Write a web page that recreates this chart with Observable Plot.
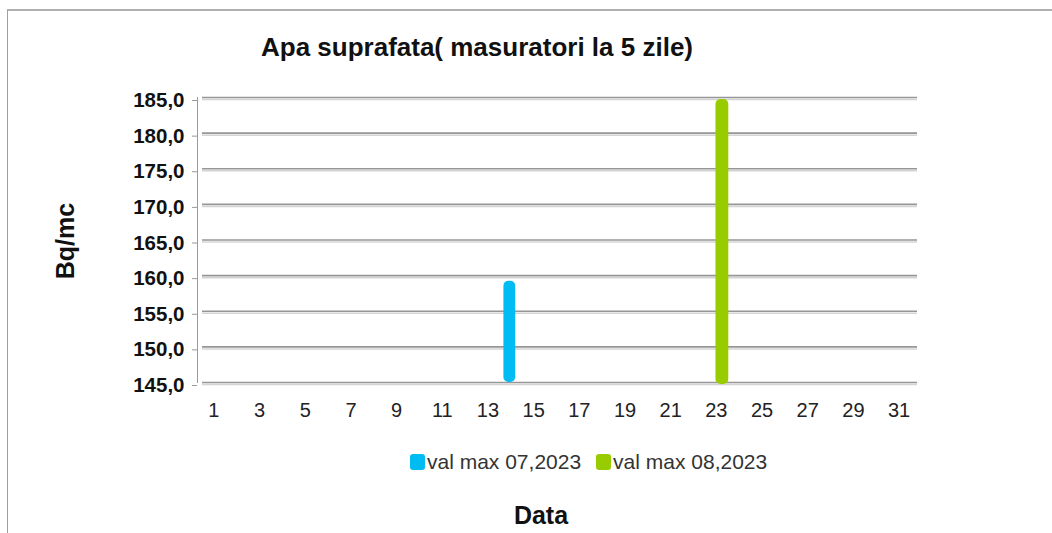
<!DOCTYPE html>
<html>
<head>
<meta charset="utf-8">
<script src="https://cdn.jsdelivr.net/npm/d3@7"></script>
<script src="https://cdn.jsdelivr.net/npm/@observablehq/plot@0.6"></script>
<style>
  html, body { margin: 0; padding: 0; background: #fff; }
  #wrap { position: relative; width: 1052px; height: 533px; overflow: hidden; font-family: "Liberation Sans", Arial, sans-serif; }
  #border { position: absolute; left: 7px; top: 9px; width: 1100px; height: 600px; border-top: 2px solid #b0b0b0; border-left: 1px solid #a0a0a0; }
  #title { position: absolute; left: 0; width: 954px; top: 34px; text-align: center; font-weight: bold; font-size: 26px; line-height: 27px; color: #111; }
  #ylab { position: absolute; left: 65px; top: 241px; transform: translate(-50%, -50%) rotate(-90deg); font-weight: bold; font-size: 25px; line-height: 25px; color: #111; white-space: nowrap; }
  #xlab { position: absolute; left: 0; width: 1082px; top: 503px; text-align: center; font-weight: bold; font-size: 25px; line-height: 25px; color: #111; }
  #chart { position: absolute; left: 0; top: 80px; }
  #legend { position: absolute; left: 410px; top: 451px; display: flex; align-items: center; font-size: 21px; line-height: 22px; color: #333; }
  .sw { display: inline-block; width: 15px; height: 16px; border-radius: 3px; margin-right: 2px; }
  .item { display: flex; align-items: center; margin-right: 15px; }
</style>
</head>
<body>
<div id="wrap">
  <div id="border"></div>
  <div id="title"></div>
  <div id="ylab"></div>
  <div id="chart"></div>
  <div id="legend"></div>
  <div id="xlab"></div>
</div>
<script>
const chartTitle = "Apa suprafata( masuratori la 5 zile)";
const yTitle = "Bq/mc";
const xTitle = "Data";
const days = [1,2,3,4,5,6,7,8,9,10,11,12,13,14,15,16,17,18,19,20,21,22,23,24,25,26,27,28,29,30,31];
const xTickLabels = [1,3,5,7,9,11,13,15,17,19,21,23,25,27,29,31];
const yTicks = [145,150,155,160,165,170,175,180,185];
const seriesNames = ["val max 07,2023", "val max 08,2023"];
const seriesColors = ["#00BCF2", "#99CC00"];
const julyDays = [14];
const julyValues = [159.2];
const augustDays = [23];
const augustValues = [185.0];

const yMin = yTicks[0], yMax = yTicks[yTicks.length - 1];
const julyData = julyDays.map((d, i) => ({day: d, value: julyValues[i]}));
const augustData = augustDays.map((d, i) => ({day: d, value: augustValues[i]}));

document.getElementById("title").textContent = chartTitle;
document.getElementById("ylab").textContent = yTitle;
document.getElementById("xlab").textContent = xTitle;

const legend = document.getElementById("legend");
seriesNames.forEach((n, i) => {
  const it = document.createElement("div");
  it.className = "item";
  const sw = document.createElement("span");
  sw.className = "sw";
  sw.style.background = seriesColors[i];
  it.appendChild(sw);
  const t = document.createElement("span");
  t.textContent = n;
  it.appendChild(t);
  legend.appendChild(it);
});

const fmt = d => d.toFixed(1).replace(".", ",");

const plot = Plot.plot({
  width: 1052,
  height: 360,
  marginTop: 17,
  marginBottom: 58,
  marginLeft: 202,
  marginRight: 142,
  style: { fontFamily: "'Liberation Sans', Arial, sans-serif", background: "transparent" },
  x: { type: "band", domain: days, padding: 0, round: false },
  y: { domain: [yMin, yMax] },
  marks: [
    Plot.ruleY(yTicks, { stroke: "#d4d4d4", strokeWidth: 1.5, dy: 2, insetRight: -7 }),
    Plot.ruleY(yTicks, { stroke: "#969696", strokeWidth: 1.6, insetRight: -7 }),
    Plot.frame({ anchor: "left", dx: -5, stroke: "#9a9a9a" }),
    Plot.axisY({ ticks: yTicks, tickFormat: fmt, tickSize: 5, dx: -5, dy: 3, tickPadding: 8, fontSize: 20.5, fontWeight: "bold", stroke: "#9a9a9a", fill: "#111", label: null }),
    Plot.axisX({ ticks: xTickLabels, tickSize: 0, tickPadding: 20, fontSize: 20, fill: "#222", label: null }),
    Plot.barY(julyData, { x: "day", y1: yMin, y2: "value", fill: seriesColors[0], insetLeft: 5.5, insetRight: 5.5, dx: -1, rx: 5 }),
    Plot.barY(augustData, { x: "day", y1: yMin, y2: "value", fill: seriesColors[1], insetLeft: 5, insetRight: 5, dx: 6, dy: 2, rx: 5 })
  ]
});
document.getElementById("chart").appendChild(plot);
</script>
</body>
</html>
